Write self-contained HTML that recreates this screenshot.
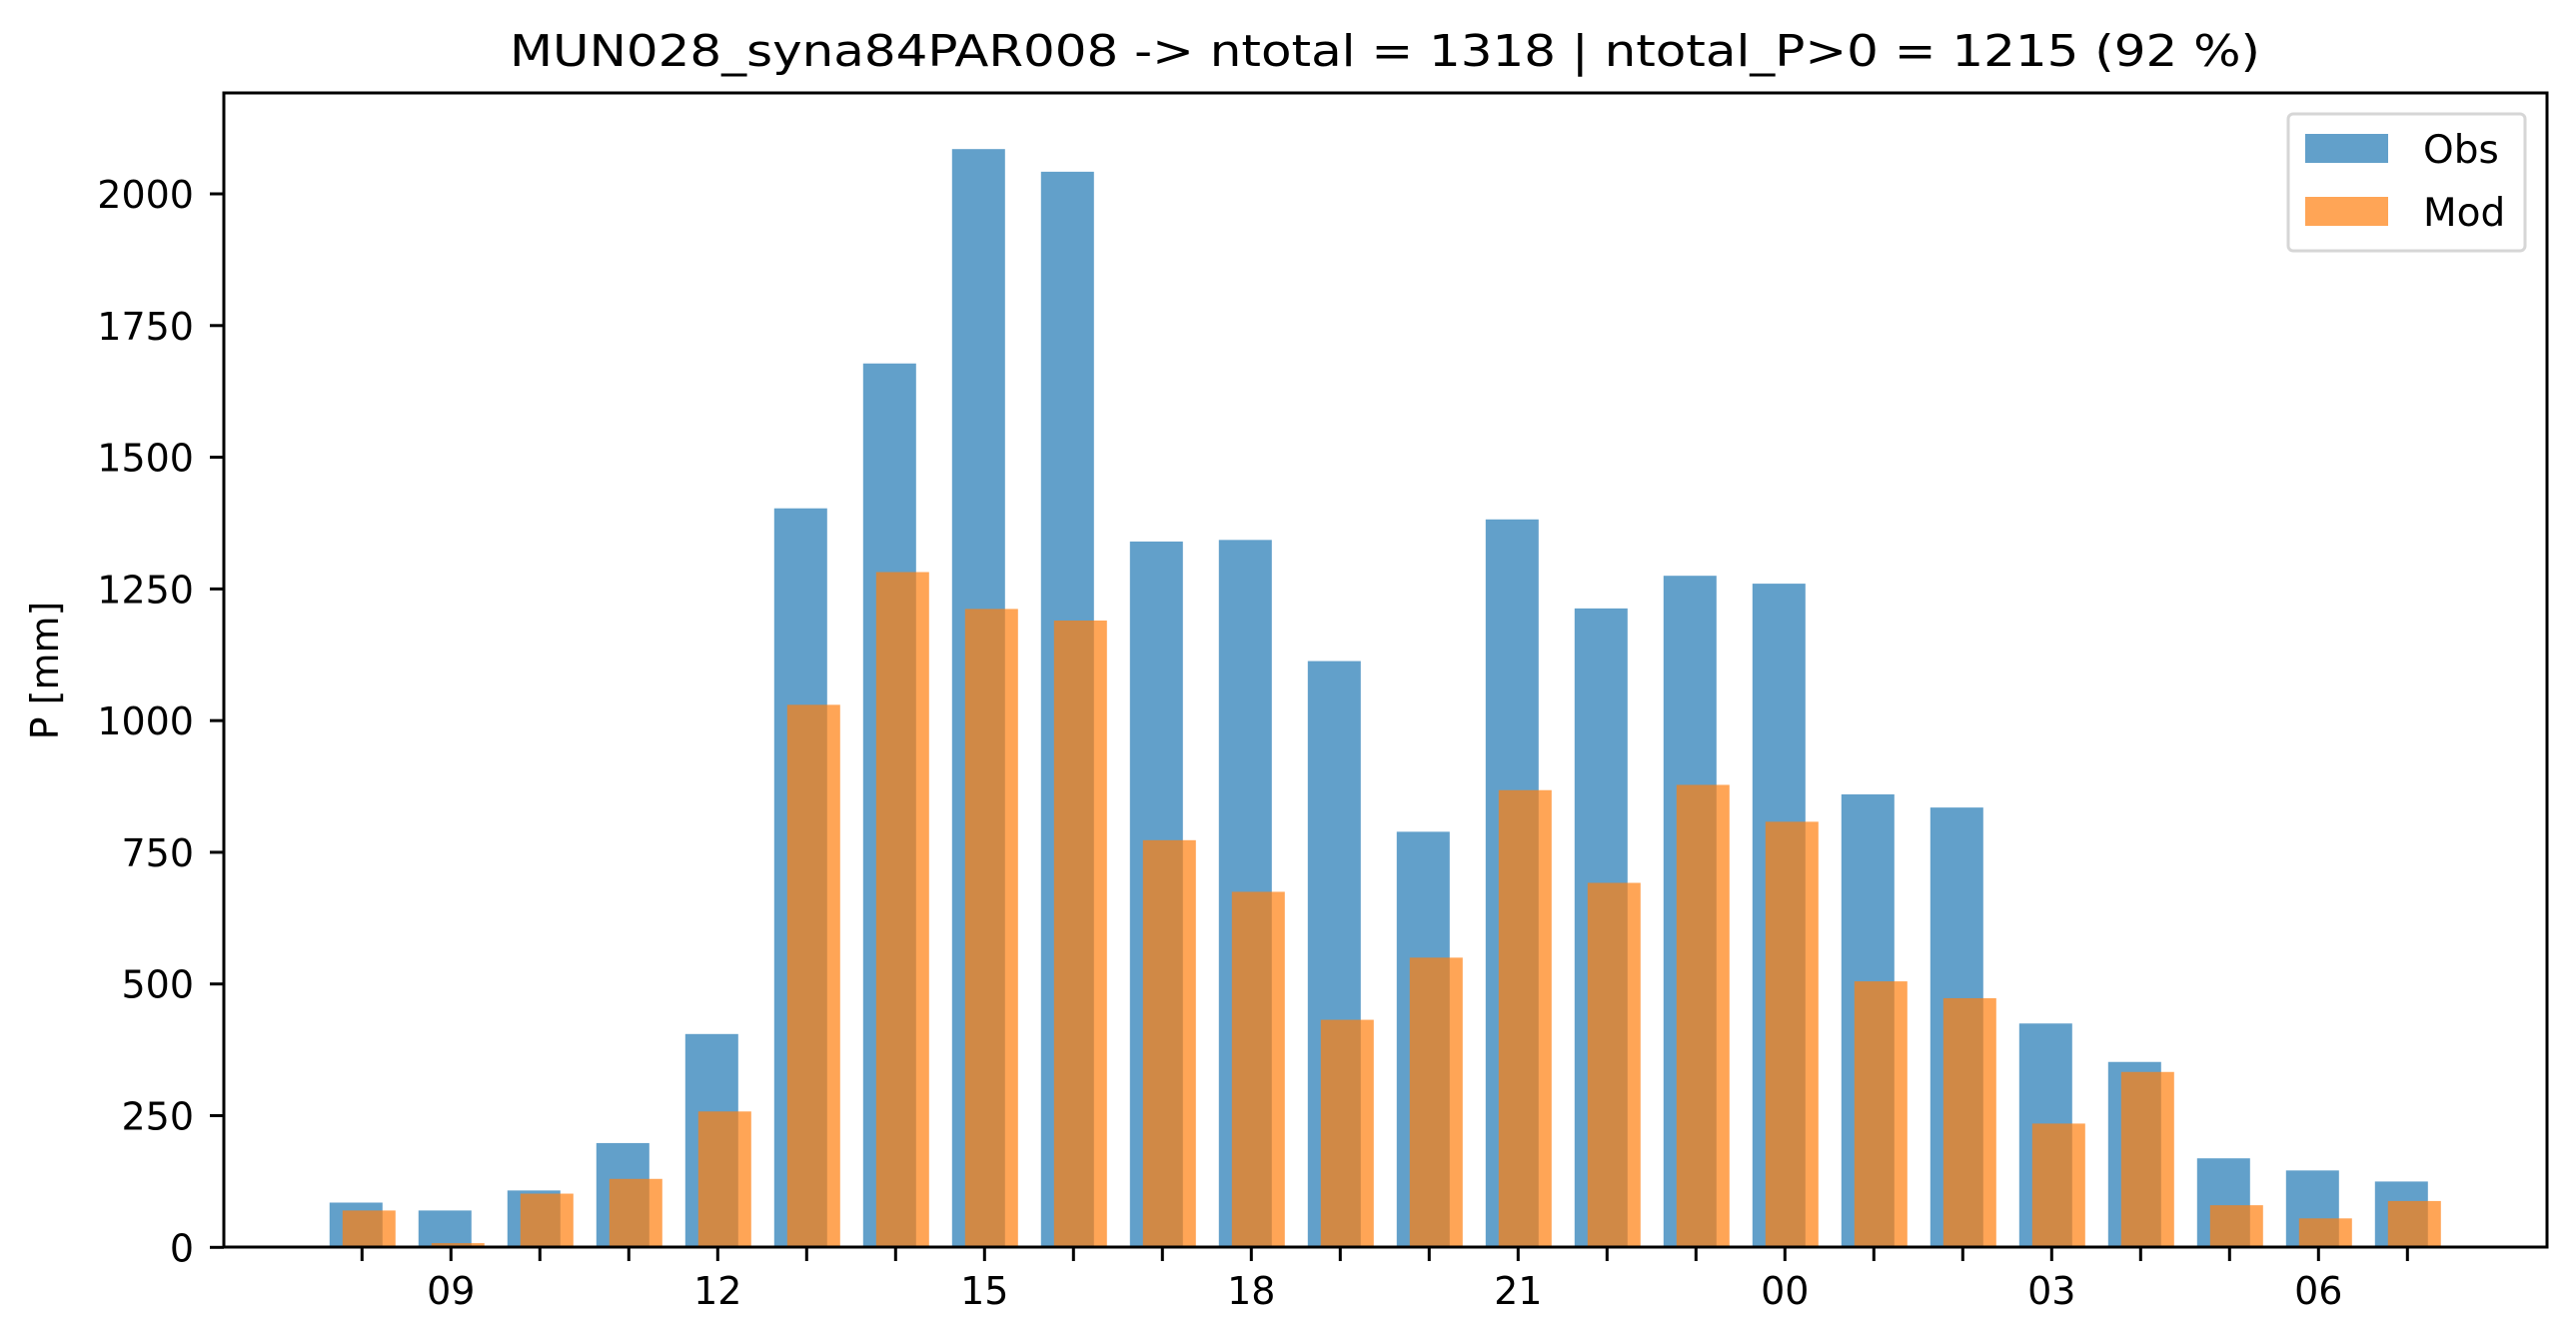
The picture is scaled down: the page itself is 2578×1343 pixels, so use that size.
<!DOCTYPE html>
<html><head><meta charset="utf-8"><style>
html,body{margin:0;padding:0;background:#fff;}
svg{display:block;font-family:"DejaVu Sans","Liberation Sans",sans-serif;}
</style></head><body>
<svg id="chart" width="2578" height="1343" viewBox="0 0 2578 1343">
<rect x="0" y="0" width="2578" height="1343" fill="#fff"/>
<text x="1386" y="66" font-size="44" text-anchor="middle" textLength="1752" lengthAdjust="spacingAndGlyphs">MUN028_syna84PAR008 -&gt; ntotal = 1318 | ntotal_P&gt;0 = 1215 (92 %)</text>
<g id="bars"></g>
<g id="axes"></g>
<rect x="224" y="93" width="2325" height="1155" fill="none" stroke="#000" stroke-width="3"/>
<text transform="translate(58,671) rotate(-90)" font-size="38" text-anchor="middle">P [mm]</text>
<g>
<rect x="2290" y="114" width="237" height="137" rx="5" fill="#fff" fill-opacity="0.8" stroke="#d6d6d6" stroke-width="3"/>
<rect x="2307" y="134" width="83" height="29" fill="#1f77b4" fill-opacity="0.7"/>
<text x="2425" y="163" font-size="39">Obs</text>
<rect x="2307" y="197" width="83" height="29" fill="#ff7f0e" fill-opacity="0.7"/>
<text x="2425" y="226" font-size="39">Mod</text>
</g>
</svg>
<script>
const hours = ["08","09","10","11","12","13","14","15","16","17","18","19","20","21","22","23","00","01","02","03","04","05","06","07"];
const obsValues = [85,70,108,198,405,1403,1678,2085,2042,1340,1343,1113,789,1382,1213,1275,1260,860,835,425,352,169,146,125];
const modValues = [70,8,102,130,258,1030,1282,1212,1190,773,675,432,550,868,692,878,808,505,473,235,333,80,55,88];
const yTicks = [0,250,500,750,1000,1250,1500,1750,2000];
const xLabels = ["09","12","15","18","21","00","03","06"];

const NS = "http://www.w3.org/2000/svg";
const x0 = 362.3, dx = 89.0;
function xScale(i){ return x0 + i*dx; }
function yScale(v){ return 1248.3 - v*(1054.3/2000); }
const bw = 53;
const barsG = document.getElementById('bars');
const axesG = document.getElementById('axes');
function mk(tag, attrs, parent){
  const e = document.createElementNS(NS, tag);
  for (const k in attrs) e.setAttribute(k, attrs[k]);
  parent.appendChild(e); return e;
}
hours.forEach((h,i)=>{
  const v = obsValues[i];
  const r = mk('rect',{x:xScale(i)-6-bw/2,y:yScale(v),width:bw,height:yScale(0)-yScale(v),fill:'#1f77b4','fill-opacity':0.7},barsG);
  
  
});
hours.forEach((h,i)=>{
  const v = modValues[i];
  const r = mk('rect',{x:xScale(i)+7-bw/2,y:yScale(v),width:bw,height:yScale(0)-yScale(v),fill:'#ff7f0e','fill-opacity':0.7},barsG);
  
  
});
yTicks.forEach(t=>{
  const y = yScale(t);
  const l = mk('line',{x1:210,x2:224,y1:y,y2:y,stroke:'#000','stroke-width':3},axesG);
  
  
  const tx = mk('text',{x:194,y:y+14,'font-size':38,'text-anchor':'end'},axesG);
  tx.textContent = t;
  
  
});
hours.forEach((h,i)=>{
  const x = xScale(i);
  const l = mk('line',{x1:x,x2:x,y1:1248,y2:1262,stroke:'#000','stroke-width':3},axesG);
  
  
  if (xLabels.includes(h)) {
    const tx = mk('text',{x:x,y:1305,'font-size':38,'text-anchor':'middle'},axesG);
    tx.textContent = h;
    
    
  }
});
</script>
</body></html>
